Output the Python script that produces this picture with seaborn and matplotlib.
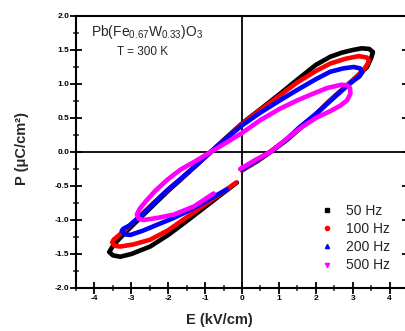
import numpy as np
import pandas as pd
import matplotlib
matplotlib.use("Agg")
import matplotlib.pyplot as plt
import seaborn as sns
from matplotlib.lines import Line2D
from matplotlib.ticker import MultipleLocator, FormatStrFormatter

sns.set_style("white")
plt.rcParams['font.family'] = ['Liberation Sans', 'DejaVu Sans']
plt.rcParams['mathtext.default'] = 'regular'
plt.rcParams['axes.unicode_minus'] = False

labels = ["50 Hz", "100 Hz", "200 Hz", "500 Hz"]
colors = ["#000000", "#ff0000", "#0000ff", "#ff00ff"]
markers = ["s", "o", "^", "v"]

E_50 = [0.0, 0.4, 0.77, 1.2, 1.58, 2.0, 2.39, 2.8, 3.12, 3.39, 3.5, 3.55, 3.45, 3.25, 3.0, 2.7,
        2.39, 2.0, 1.49, 1.04, 0.5, 0.0, -0.45, -0.85, -1.25, -1.67, -2.0, -2.4, -2.8, -3.1,
        -3.35, -3.52, -3.6, -3.5, -3.3, -3.0, -2.49, -2.0, -1.58, -1.1, -0.6, -0.14]
P_50 = [-0.27, -0.14, 0.0, 0.17, 0.35, 0.55, 0.76, 0.96, 1.11, 1.25, 1.38, 1.47, 1.515, 1.525, 1.5, 1.46,
        1.4, 1.28, 1.06, 0.86, 0.63, 0.42, 0.2, 0.0, -0.2, -0.41, -0.57, -0.78, -0.99, -1.15,
        -1.29, -1.4, -1.47, -1.52, -1.54, -1.5, -1.39, -1.22, -1.05, -0.85, -0.64, -0.45]

E_100 = [0.0, 0.4, 0.75, 1.2, 1.55, 2.0, 2.35, 2.75, 3.05, 3.28, 3.4, 3.44, 3.38, 3.16, 2.8,
         2.39, 2.0, 1.49, 1.0, 0.5, 0.0, -0.45, -0.85, -1.25, -1.67, -2.0, -2.4, -2.8, -3.1,
         -3.35, -3.48, -3.52, -3.45, -3.3, -2.95, -2.49, -2.0, -1.58, -1.1, -0.6, -0.16]
P_100 = [-0.27, -0.13, 0.0, 0.18, 0.35, 0.55, 0.74, 0.93, 1.08, 1.2, 1.29, 1.35, 1.39, 1.41, 1.37,
         1.3, 1.19, 1.02, 0.82, 0.62, 0.41, 0.19, 0.0, -0.2, -0.4, -0.55, -0.75, -0.96, -1.11,
         -1.23, -1.29, -1.33, -1.38, -1.39, -1.36, -1.29, -1.15, -0.99, -0.81, -0.62, -0.45]

E_200 = [0.0, 0.4, 0.77, 1.2, 1.55, 2.0, 2.35, 2.7, 2.98, 3.18, 3.26, 3.2, 3.03, 2.75,
         2.39, 2.0, 1.49, 1.0, 0.5, 0.0, -0.45, -0.85, -1.25, -1.67, -2.0, -2.4, -2.75, -3.05,
         -3.22, -3.26, -3.18, -3.03, -2.7, -2.3, -1.85, -1.4, -0.9, -0.41]
P_200 = [-0.26, -0.12, 0.0, 0.18, 0.36, 0.56, 0.73, 0.9, 1.03, 1.11, 1.17, 1.23, 1.25, 1.23,
         1.18, 1.07, 0.91, 0.75, 0.58, 0.39, 0.19, 0.0, -0.2, -0.4, -0.55, -0.76, -0.94, -1.08,
         -1.13, -1.16, -1.21, -1.22, -1.16, -1.07, -0.97, -0.85, -0.7, -0.55]

E_500 = [-0.05, 0.35, 0.77, 1.2, 1.58, 2.0, 2.39, 2.66, 2.85, 2.94, 2.93, 2.85, 2.7, 2.3,
         1.94, 1.5, 1.04, 0.5, 0.0, -0.45, -0.85, -1.25, -1.67, -2.03, -2.35, -2.6, -2.78,
         -2.85, -2.8, -2.67, -2.3, -1.85, -1.3, -0.77]
P_500 = [-0.25, -0.12, 0.0, 0.19, 0.35, 0.5, 0.6, 0.68, 0.76, 0.86, 0.94, 0.98, 0.99, 0.94,
         0.86, 0.76, 0.64, 0.47, 0.28, 0.13, 0.0, -0.13, -0.26, -0.41, -0.57, -0.72, -0.84,
         -0.92, -0.98, -1.0, -0.97, -0.92, -0.8, -0.61]

series = [(E_50, P_50), (E_100, P_100), (E_200, P_200), (E_500, P_500)]
frames = []
for lab, (e, p) in zip(labels, series):
    frames.append(pd.DataFrame({"E": e, "P": p, "freq": lab, "order": np.arange(len(e))}))
df = pd.concat(frames, ignore_index=True)

fig = plt.figure(figsize=(4.06, 3.31), dpi=100)
ax = fig.add_axes([76 / 406, 1 - 288 / 331, 332 / 406, 272 / 331])

ax.axhline(0, color="black", lw=1.3, zorder=1)
ax.axvline(0, color="black", lw=1.3, zorder=1)

sns.lineplot(data=df, x="E", y="P", hue="freq", hue_order=labels,
             palette=dict(zip(labels, colors)), sort=False, estimator=None,
             units="freq", linewidth=3.3, legend=False, ax=ax, zorder=3,
             solid_capstyle="round", solid_joinstyle="round")

ax.set_xlim(-4.5, 4.5)
ax.set_ylim(-2.0, 2.0)
ax.xaxis.set_major_locator(MultipleLocator(1))
ax.xaxis.set_minor_locator(MultipleLocator(0.5))
ax.yaxis.set_major_locator(MultipleLocator(0.5))
ax.yaxis.set_minor_locator(MultipleLocator(0.25))
ax.xaxis.set_major_formatter(FormatStrFormatter("%d"))
ax.yaxis.set_major_formatter(FormatStrFormatter("%.1f"))

ax.tick_params(which="major", direction="inout", length=8, width=1.3, labelsize=6,
               left=True, bottom=True, right=True, top=False, pad=1, colors="black")
ax.tick_params(which="minor", direction="inout", length=4.5, width=1.1,
               left=True, bottom=True, right=True, top=False)
for lab in ax.get_xticklabels() + ax.get_yticklabels():
    lab.set_fontweight("bold")
for s in ax.spines.values():
    s.set_linewidth(1.5)
    s.set_color("black")

ax.set_xlabel("")
ax.set_ylabel("")
fig.text(219 / 406, 1 - 320 / 331, "E (kV/cm)", ha="center", va="center",
         fontsize=10.5, fontweight="bold")
fig.text(22 / 406, 1 - 148 / 331, "P (μC/cm²)", ha="center", va="center",
         rotation=90, fontsize=10.5, fontweight="bold")

ax.text(0.045, 0.941, r"Pb(Fe$_{0.67}$W$_{0.33}$)O$_3$", transform=ax.transAxes,
        ha="left", va="center", fontsize=10)
ax.text(0.199, 0.868, "T = 300 K", transform=ax.transAxes,
        ha="center", va="center", fontsize=8.5)

handles = [Line2D([], [], ls="none", marker=m, color=c, markersize=3)
           for m, c in zip(markers, colors)]
ax.legend(handles, labels, loc="upper left", bbox_to_anchor=(0.735, 0.309),
          frameon=False, fontsize=10, handlelength=1, handletextpad=0.9,
          labelspacing=0.3, borderpad=0, borderaxespad=0)

fig.savefig("out.png", dpi=100)
